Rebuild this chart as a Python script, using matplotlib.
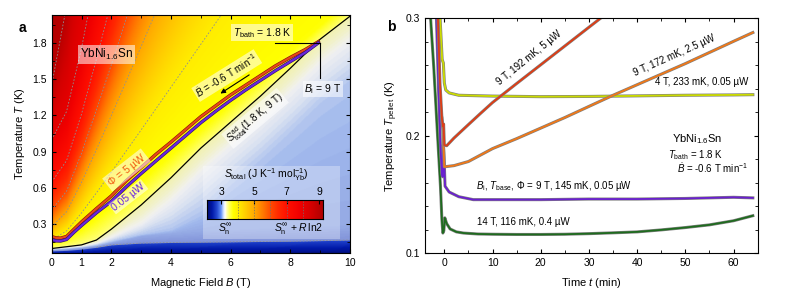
import numpy as np
import matplotlib
matplotlib.use('Agg')
import matplotlib.pyplot as plt
import matplotlib.patheffects as pe
from matplotlib.colors import LinearSegmentedColormap
from matplotlib.patches import Rectangle
from matplotlib.ticker import MultipleLocator

plt.rcParams['font.family'] = 'Liberation Sans'
plt.rcParams['mathtext.fontset'] = 'custom'
plt.rcParams['mathtext.rm'] = 'Liberation Sans'
plt.rcParams['mathtext.it'] = 'Liberation Sans:italic'
plt.rcParams['mathtext.bf'] = 'Liberation Sans:bold'

# ---- panel a: isentropes, temperature (K) of each entropy level at each field
B_tab = [0, 0.5, 1, 1.5, 2, 3, 4, 5, 6, 7, 8, 9, 10]
S_levels = [2.1, 2.3, 2.7, 2.85, 3.0, 3.2, 3.4, 3.7, 4, 5, 6, 7, 8, 9, 9.3]
T_iso = [
    [0.03, 0.032, 0.034, 0.036, 0.038, 0.04, 0.042, 0.044, 0.046, 0.048, 0.05, 0.052, 0.054],
    [0.05, 0.052, 0.055, 0.058, 0.06, 0.062, 0.064, 0.066, 0.068, 0.07, 0.072, 0.074, 0.076],
    [0.08, 0.085, 0.095, 0.11, 0.13, 0.145, 0.15, 0.152, 0.155, 0.158, 0.16, 0.165, 0.17],
    [0.084, 0.09, 0.1, 0.118, 0.145, 0.2, 0.22, 0.24, 0.25, 0.26, 0.27, 0.28, 0.29],
    [0.088, 0.095, 0.105, 0.125, 0.155, 0.21, 0.25, 0.38, 0.6, 0.81, 1.04, 1.28, 1.47],
    [0.093, 0.105, 0.118, 0.14, 0.19, 0.3, 0.49, 0.73, 0.945, 1.16, 1.39, 1.63, 1.82],
    [0.10, 0.115, 0.13, 0.17, 0.26, 0.46, 0.685, 0.93, 1.145, 1.36, 1.59, 1.83, 2.02],
    [0.14, 0.177, 0.257, 0.353, 0.454, 0.663, 0.876, 1.09, 1.304, 1.519, 1.735, 1.95, 2.166],
    [0.17, 0.246, 0.394, 0.56, 0.732, 1.081, 1.434, 1.788, 2.142, 2.497, 2.85, 3.21, 3.56],
    [0.28, 0.404, 0.647, 0.918, 1.199, 1.771, 2.349, 2.93, 3.51, 4.09, 4.67, 5.25, 5.84],
    [0.42, 0.574, 0.888, 1.246, 1.619, 2.383, 3.15, 3.93, 4.71, 5.49, 6.27, 7.05, 7.83],
    [0.65, 0.827, 1.211, 1.665, 2.145, 3.13, 4.14, 5.15, 6.17, 7.18, 8.2, 9.22, 10.24],
    [1.0, 1.233, 1.756, 2.384, 3.05, 4.44, 5.86, 7.28, 8.72, 10.15, 11.59, 13.02, 14.46],
    [1.45, 2.108, 3.386, 4.83, 6.29, 9.29, 12.3, 15.4, 18.4, 21.5, 24.5, 27.6, 30.6],
    [2.3, 3.0, 4.5, 6.5, 8.5, 12.5, 16.5, 20.5, 24.5, 28.5, 32.5, 36.5, 40.5],
]
dashed_levels = [2.7, 4, 5, 6, 7, 8, 9]

# adiabat S_total(1.8 K, 9 T) is the 3.4 level
T_adiabat = T_iso[S_levels.index(3.4)]
T_strip = T_iso[S_levels.index(2.7)]

# field sweeps (B in T, T in K)
sweep_B = [0.05, 0.15, 0.3, 0.5, 0.75, 1.0, 1.5, 2.0, 2.5, 3.0, 3.5, 4.0, 4.5, 5.0,
           5.5, 6.0, 6.5, 7.0, 7.5, 8.0, 8.5, 8.94]
T_5uW = [0.195, 0.188, 0.186, 0.20, 0.26, 0.32, 0.43, 0.535, 0.66, 0.77, 0.88, 0.98,
         1.085, 1.19, 1.28, 1.37, 1.45, 1.53, 1.61, 1.68, 1.745, 1.81]
T_005uW = [0.170, 0.163, 0.162, 0.175, 0.235, 0.29, 0.395, 0.49, 0.61, 0.72, 0.825,
           0.93, 1.035, 1.14, 1.235, 1.325, 1.41, 1.49, 1.57, 1.645, 1.72, 1.80]

S_min, S_max = 2.1, 9.2
cb_ticks = [3, 5, 7, 9]
cmap_stops = [(2.1, '#000c70'), (2.4, '#0018a8'), (2.7, '#2448d0'), (2.95, '#6090f8'),
              (3.1, '#d0e0ff'), (3.2, '#ffffff'), (3.3, '#ffffb0'), (3.45, '#ffff60'),
              (3.7, '#ffff00'), (4.2, '#ffe000'), (4.6, '#ffc400'), (5.0, '#ffa800'),
              (5.5, '#ff7c00'), (6.0, '#ff4c00'), (6.5, '#ff2800'), (7.0, '#ff1000'),
              (7.8, '#f00000'), (8.5, '#d40000'), (9.2, '#b00000')]
cmap = LinearSegmentedColormap.from_list(
    'stot', [((s - S_min) / (S_max - S_min), c) for s, c in cmap_stops])

# ---- panel b: pellet temperature vs time
t_red = [-1.4, -0.9, -0.5, -0.3, -0.15, 0.0, 0.5, 2, 5, 7.5, 10, 15, 20, 25, 30, 32.5]
Tp_red = [0.31, 0.245, 0.215, 0.208, 0.21, 0.192, 0.1915, 0.198, 0.2095, 0.219, 0.2283,
          0.2445, 0.2605, 0.2765, 0.2925, 0.3005]
t_orange = [-0.5, -0.3, -0.15, 0, 2, 5, 7.5, 10, 15, 20, 25, 30, 35, 40, 45, 50, 55, 60, 64]
Tp_orange = [0.215, 0.205, 0.19, 0.1735, 0.1745, 0.178, 0.1835, 0.189, 0.1975, 0.2065,
             0.2155, 0.225, 0.2345, 0.2435, 0.2525, 0.2615, 0.271, 0.2805, 0.288]
t_yellow = [-1.0, -0.7, -0.45, -0.2, 0, 0.3, 1, 3, 10, 20, 30, 40, 50, 60, 64]
Tp_yellow = [0.31, 0.285, 0.265, 0.262, 0.245, 0.239, 0.2365, 0.2345, 0.2338, 0.2333,
             0.2335, 0.234, 0.2345, 0.2348, 0.235]
t_purple = [-1.7, -1.2, -0.8, -0.5, -0.35, -0.2, 0, 0.15, 1, 3, 6, 10, 20, 30, 40, 50, 60, 64]
Tp_purple = [0.31, 0.24, 0.19, 0.168, 0.165, 0.192, 0.175, 0.157, 0.152, 0.148, 0.1455,
             0.1455, 0.1455, 0.146, 0.146, 0.1465, 0.1475, 0.147]
t_green = [-3.0, -2.2, -1.4, -0.8, -0.5, -0.3, -0.1, 0.1, 0.5, 1.2, 2.5, 4, 7, 10, 15, 20,
           25, 30, 35, 40, 45, 50, 55, 60, 64]
Tp_green = [0.31, 0.259, 0.2, 0.157, 0.128, 0.117, 0.119, 0.13, 0.125, 0.1205, 0.118, 0.117,
            0.1162, 0.116, 0.1158, 0.1158, 0.116, 0.1165, 0.1172, 0.118, 0.1197, 0.1217,
            0.124, 0.1275, 0.1318]

fig = plt.figure(figsize=(7.89, 3.07), dpi=100)

# ================= panel a
ax = fig.add_axes([0.0655, 0.1759, 0.378, 0.775])
Bf = np.linspace(0, 10, 401)
Tf = np.linspace(0.06, 2.04, 300)
iso = np.array([np.interp(Bf, B_tab, row) for row in T_iso])
S = np.empty((len(Tf), len(Bf)))
for j in range(len(Bf)):
    S[:, j] = np.interp(Tf, iso[:, j], S_levels)
ax.imshow(S, extent=[0, 10, Tf[0], Tf[-1]], origin='lower', aspect='auto',
          cmap=cmap, vmin=S_min, vmax=S_max, interpolation='bilinear', zorder=0)

# washed out region below the adiabat
ax.fill_between(B_tab, T_strip, T_adiabat, color='#e4e4e4', alpha=0.5, lw=0, zorder=1)
for lev in dashed_levels:
    row = T_iso[S_levels.index(lev)]
    Bd = B_tab if lev != 2.7 else B_tab[3:]
    Td = row if lev != 2.7 else row[3:]
    ax.plot(Bd, Td, ls=(0, (2, 2)), color='#909090', lw=0.6, zorder=2)

ax.plot(B_tab, T_adiabat, color='black', lw=0.9, zorder=3)
ax.plot(sweep_B, T_5uW, color='#e8481a', lw=1.5, zorder=4,
        path_effects=[pe.Stroke(linewidth=2.4, foreground='#8a1a00'), pe.Normal()])
ax.plot(sweep_B, T_005uW, color='#6a26e0', lw=1.5, zorder=4,
        path_effects=[pe.Stroke(linewidth=2.4, foreground='#301070'), pe.Normal()])

ax.plot([7.49, 9.0], [1.8, 1.8], color='black', lw=0.8, zorder=5)
ax.plot([9.0, 9.0], [1.8, 1.506], color='black', lw=0.8, zorder=5)

box = dict(boxstyle='square,pad=0.12', fc='white', ec='none', alpha=0.55)
ax.text(7.05, 1.885, r'$T_{\rm bath}$ = 1.8 K', fontsize=7.5, ha='center', va='center',
        bbox=box, zorder=6)
ax.text(9.1, 1.42, r'$B_{\rm i}$ = 9 T', fontsize=7.5, ha='center', va='center',
        bbox=box, zorder=6)
ax.text(1.84, 1.706, r'YbNi$_{1.6}$Sn', fontsize=8.5, ha='center', va='center',
        bbox=dict(boxstyle='square,pad=0.15', fc='white', ec='none', alpha=0.55), zorder=6)
ax.text(5.87, 1.53, r'$\dot{B}$ = -0.6 T min$^{-1}$', fontsize=7, ha='center',
        va='center', rotation=32, rotation_mode='anchor', bbox=box, zorder=6)
ax.annotate('', xy=(5.58, 1.369), xytext=(6.7, 1.548), zorder=6,
            arrowprops=dict(arrowstyle='-|>', color='black', lw=0.8,
                            mutation_scale=7))
ax.text(6.82, 1.176, r'$S^{\rm ad}_{\rm total}$(1.8 K, 9 T)', fontsize=7, ha='center',
        va='center', rotation=40, rotation_mode='anchor', bbox=box, zorder=6)
ax.text(2.51, 0.749, r'$\Phi$ = 5 µW', fontsize=7.5, color='#f05a10', ha='center',
        va='center', rotation=38, rotation_mode='anchor', bbox=box, zorder=6)
ax.text(2.57, 0.528, '0.05 µW', fontsize=7.5, color='#6a26e0', ha='center',
        va='center', rotation=38, rotation_mode='anchor', bbox=box, zorder=6)

ax.add_patch(Rectangle((5.07, 0.178), 4.59, 0.604, fc='white', ec='none', alpha=0.3,
                       zorder=5))

ax.set_xlim(0, 10)
ax.set_ylim(0.063, 2.03)
ax.set_xticks([0, 1, 2, 4, 6, 8, 10])
ax.xaxis.set_minor_locator(MultipleLocator(1))
ax.set_yticks([0.3, 0.6, 0.9, 1.2, 1.5, 1.8])
ax.yaxis.set_minor_locator(MultipleLocator(0.15))
ax.tick_params(which='both', direction='in', top=True, right=True, labelsize=7.5)
ax.tick_params(which='major', length=3)
ax.tick_params(which='minor', length=2)
ax.set_xlabel(r'Magnetic Field $B$ (T)', fontsize=8, labelpad=6)
ax.set_ylabel(r'Temperature $T$ (K)', fontsize=8, labelpad=4)
for sp in ax.spines.values():
    sp.set_linewidth(0.8)
    sp.set_zorder(7)

# colour bar inside panel a
cax = fig.add_axes([0.262, 0.2857, 0.147, 0.0629])
cax.imshow(np.linspace(S_min, S_max, 256)[None, :], extent=[S_min, S_max, 0, 1],
           aspect='auto', cmap=cmap, vmin=S_min, vmax=S_max)
cax.vlines([4, 5, 6, 7, 8], 0, 1, colors='#707070', linestyles=(0, (2, 2)), lw=0.5)
cax.set_xlim(S_min, S_max)
cax.set_xticks(cb_ticks)
cax.set_yticks([])
cax.xaxis.tick_top()
cax.tick_params(direction='in', length=3, labelsize=7.5, pad=2)
for sp in cax.spines.values():
    sp.set_linewidth(0.8)
fig.text(266.7 / 789, 1 - 175 / 307,
         r'$S_{\rm total}$ (J K$^{-1}$ mol$^{-1}_{\rm Yb}$)', fontsize=7.5,
         ha='center', va='center')
fig.text(225 / 789, 1 - 229 / 307, r'$S_{\rm n}^{\infty}$', fontsize=7.5,
         ha='center', va='center')
fig.text(323 / 789, 1 - 229 / 307, r'$S_{\rm n}^{\infty}$ + $R\,$ln2', fontsize=7.5,
         ha='right', va='center')

fig.text(22 / 789, 1 - 28 / 307, 'a', fontsize=10, fontweight='bold',
         ha='center', va='center')

# ================= panel b
bx = fig.add_axes([0.5387, 0.1759, 0.4216, 0.764])
curves = [
    (t_green, Tp_green, '#1e6b1e'),
    (t_purple, Tp_purple, '#6a1fd0'),
    (t_yellow, Tp_yellow, '#ccdc00'),
    (t_orange, Tp_orange, '#f07818'),
    (t_red, Tp_red, '#e03c14'),
]
for t, Tp, c in curves:
    bx.plot(t, Tp, color=c, lw=1.3,
            path_effects=[pe.Stroke(linewidth=2.2, foreground='#808080'), pe.Normal()])

fs = 7
bx.text(17.5, 0.266, '9 T, 192 mK, 5 µW', fontsize=fs, rotation=39,
        rotation_mode='anchor', ha='center', va='center')
bx.text(47.7, 0.2687, '9 T, 172 mK, 2.5 µW', fontsize=fs, rotation=24,
        rotation_mode='anchor', ha='center', va='center')
bx.text(53.4, 0.246, '4 T, 233 mK, 0.05 µW', fontsize=fs, ha='center', va='center')
bx.text(52.5, 0.1969, r'YbNi$_{1.6}$Sn', fontsize=8, ha='center', va='center')
bx.text(52.2, 0.1835, r'$T_{\rm bath}$ = 1.8 K', fontsize=fs, ha='center', va='center')
bx.text(55.7, 0.1722, r'$\dot{B}$ = -0.6 T min$^{-1}$', fontsize=fs,
        ha='center', va='center')
bx.text(22.7, 0.1573, r'$B_{\rm i}$, $T_{\rm base}$, $\Phi$ = 9 T, 145 mK, 0.05 µW',
        fontsize=fs, ha='center', va='center')
bx.text(16.5, 0.1267, '14 T, 116 mK, 0.4 µW', fontsize=fs, ha='center', va='center')

bx.set_xlim(-4, 65)
bx.set_ylim(0.1, 0.3)
bx.set_xticks([0, 10, 20, 30, 40, 50, 60])
bx.xaxis.set_minor_locator(MultipleLocator(5))
bx.set_yticks([0.1, 0.2, 0.3])
bx.yaxis.set_minor_locator(MultipleLocator(0.02))
bx.tick_params(which='both', direction='in', top=True, right=True, labelsize=7.5)
bx.tick_params(which='major', length=3)
bx.tick_params(which='minor', length=2)
bx.set_xlabel(r'Time $t$ (min)', fontsize=8, labelpad=6)
bx.set_ylabel(r'Temperature $T_{\rm pellet}$ (K)', fontsize=8, labelpad=4)
for sp in bx.spines.values():
    sp.set_linewidth(0.8)

fig.text(391.7 / 789, 1 - 26.7 / 307, 'b', fontsize=10, fontweight='bold',
         ha='center', va='center')

fig.savefig('out.png', dpi=100)
